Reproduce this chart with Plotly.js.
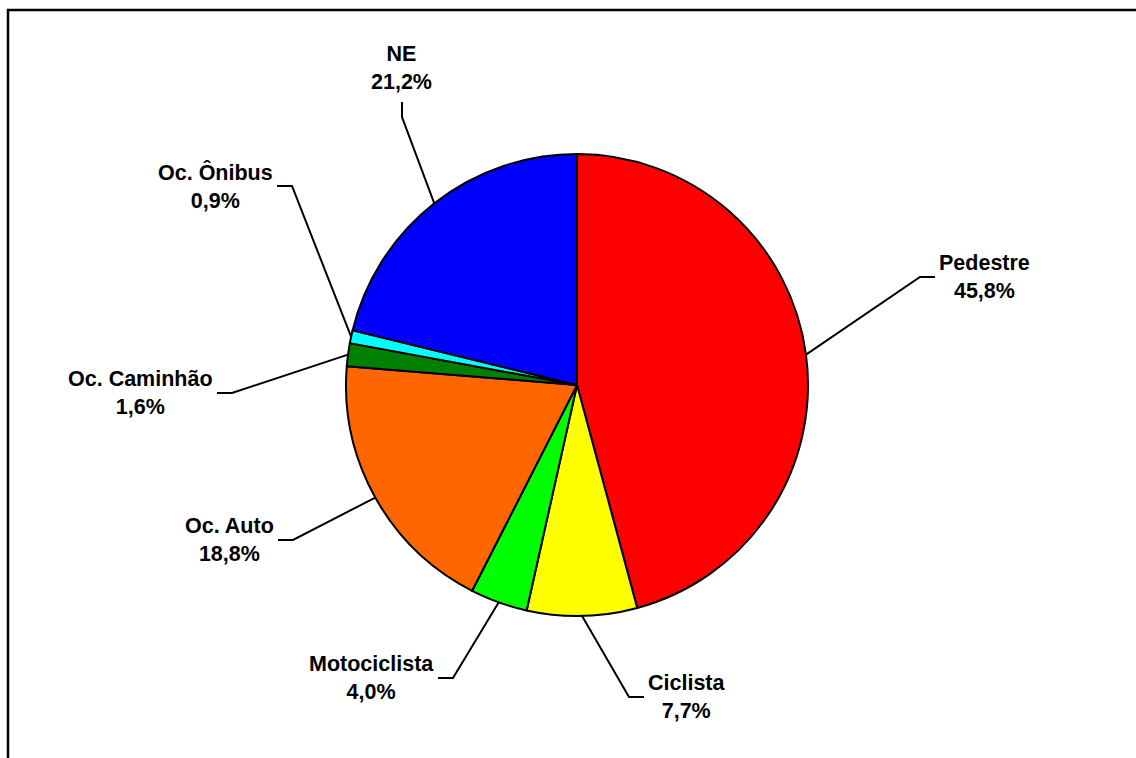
<!DOCTYPE html>
<html>
<head>
<meta charset="utf-8">
<script src="https://cdn.plot.ly/plotly-3.0.1.min.js"></script>
<style>html,body{margin:0;padding:0;background:#fff;}#chart{width:1136px;height:758px;}</style>
</head>
<body>
<div id="chart"></div>
<script>
// ---- data ----
const categories = ["Pedestre", "Ciclista", "Motociclista", "Oc. Auto", "Oc. Caminhão", "Oc. Ônibus", "NE"];
const shares = [45.8, 7.7, 4.0, 18.8, 1.6, 0.9, 21.2];
const sliceColors = ["#FF0000", "#FFFF00", "#00FF00", "#FF6600", "#008000", "#00FFFF", "#0000FF"];

// ---- layout constants (pixels) ----
const W = 1136, H = 758;
const CX = 577, CY = 385, R = 231;
// elbow point of each leader line and direction of its short tail
const elbows = [[920, 277], [629, 697], [453, 678], [293, 540], [232, 393], [292, 186], [402, 117]];
const tails = ["right", "right", "left", "left", "left", "left", "up"];
const TAIL = 15, GAP = 3;

const px = x => x / W;
const py = y => 1 - y / H;

const total = shares.reduce((a, b) => a + b, 0);
const shapes = [];
const annotations = [];
let cum = 0;
shares.forEach((v, i) => {
  const mid = (cum + v / 2) / total * 2 * Math.PI;
  cum += v;
  const sx = CX + R * Math.sin(mid), sy = CY - R * Math.cos(mid);
  const [ex, ey] = elbows[i];
  let tx = ex, ty = ey, ann;
  const txt = "<b>" + categories[i] + "</b><br><b>" + v.toFixed(1).replace(".", ",") + "%</b>";
  const font = {family: "Arial, 'Liberation Sans', sans-serif", size: 21.5, color: "#000"};
  if (tails[i] === "right") {
    tx = ex + TAIL;
    ann = {x: px(tx + GAP), y: py(ty), xanchor: "left", yanchor: "middle"};
  } else if (tails[i] === "left") {
    tx = ex - TAIL;
    ann = {x: px(tx - GAP), y: py(ty), xanchor: "right", yanchor: "middle"};
  } else {
    ty = ey - TAIL;
    ann = {x: px(tx), y: py(ty - 7), xanchor: "center", yanchor: "bottom"};
  }
  shapes.push({
    type: "path", xref: "paper", yref: "paper",
    path: `M ${px(sx)},${py(sy)} L ${px(ex)},${py(ey)} L ${px(tx)},${py(ty)}`,
    line: {color: "#000", width: 2}
  });
  annotations.push(Object.assign(ann, {
    xref: "paper", yref: "paper", text: txt, showarrow: false, align: "center",
    font: font, borderpad: 0
  }));
});

// outer frame
shapes.push({
  type: "rect", xref: "paper", yref: "paper",
  x0: px(8), x1: px(W + 10), y0: py(H + 10), y1: py(10),
  line: {color: "#000", width: 2.5}, layer: "above"
});

const trace = {
  type: "pie",
  labels: categories,
  values: shares,
  sort: false,
  direction: "clockwise",
  rotation: 0,
  textinfo: "none",
  hoverinfo: "label+percent",
  marker: {colors: sliceColors, line: {color: "#000", width: 2}},
  domain: {x: [px(CX - R), px(CX + R)], y: [py(CY + R), py(CY - R)]},
  showlegend: false
};

Plotly.newPlot("chart", [trace], {
  width: W, height: H,
  margin: {l: 0, r: 0, t: 0, b: 0},
  paper_bgcolor: "#fff",
  showlegend: false,
  shapes: shapes,
  annotations: annotations
}, {displayModeBar: false, staticPlot: true});
</script>
</body>
</html>
